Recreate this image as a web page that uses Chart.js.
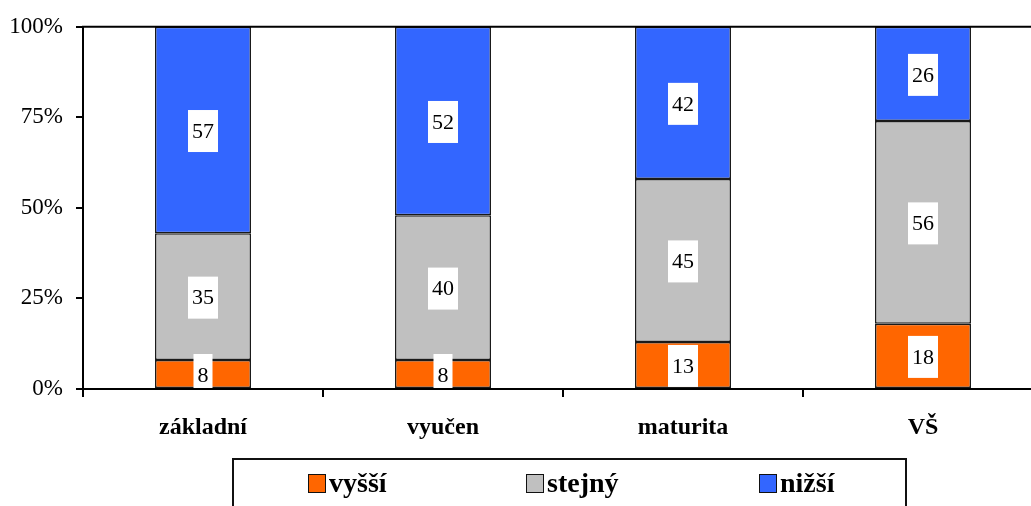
<!DOCTYPE html>
<html><head><meta charset="utf-8">
<script src="https://cdn.jsdelivr.net/npm/chart.js@4.4.1/dist/chart.umd.min.js"></script>
<style>
html,body{margin:0;padding:0;overflow:hidden;background:#fff;width:1031px;height:506px;}
#wrap{position:absolute;left:0;top:0;width:1045px;height:506px;}
#legendBox{position:absolute;left:232px;top:458px;width:675px;height:70px;border:2px solid #111;box-sizing:border-box;}
.li{position:absolute;top:469px;height:28px;display:flex;align-items:center;font:bold 28px "Liberation Serif","Times New Roman",serif;color:#000;white-space:nowrap;}
.sw{width:16px;height:17px;border:1.5px solid #111;margin-right:3px;}
</style></head>
<body>
<div id="wrap"><canvas id="c"></canvas></div>
<div id="legendBox"></div>
<div id="legendItems"></div>
<script>
const categories = ['základní', 'vyučen', 'maturita', 'VŠ'];
const seriesNames = ['vyšší', 'stejný', 'nižší'];
const vyssi = [8, 8, 13, 18];
const stejny = [35, 40, 45, 56];
const nizsi = [57, 52, 42, 26];
const yTickLabels = ['0%', '25%', '50%', '75%', '100%'];

const colors = ['#FF6600', '#C0C0C0', '#3366FF'];
const legendX = [308, 526, 759];
const FONT = '"Liberation Serif", "Times New Roman", serif';

const seriesValues = [vyssi, stejny, nizsi];

const li = document.getElementById('legendItems');
seriesNames.forEach((n, i) => {
  const d = document.createElement('div');
  d.className = 'li';
  d.style.left = legendX[i] + 'px';
  const s = document.createElement('div');
  s.className = 'sw';
  s.style.background = colors[i];
  d.appendChild(s);
  const t = document.createElement('span');
  t.textContent = n;
  d.appendChild(t);
  li.appendChild(d);
});

const labelPlugin = {
  id: 'lbl',
  afterDatasetsDraw(chart) {
    const ctx = chart.ctx, a = chart.chartArea;
    ctx.save();
    ctx.beginPath();
    ctx.rect(a.left, a.top, a.right - a.left, a.bottom - a.top);
    ctx.clip();
    ctx.font = '22px ' + FONT;
    ctx.textAlign = 'center';
    ctx.textBaseline = 'middle';
    chart.data.datasets.forEach((ds, i) => {
      chart.getDatasetMeta(i).data.forEach((el, j) => {
        const t = String(ds.data[j]);
        const cy = (el.y + el.base) / 2 + 1;
        const w = ctx.measureText(t).width + 8;
        ctx.fillStyle = '#fff';
        ctx.fillRect(el.x - w / 2, cy - 21, w, 42);
        ctx.fillStyle = '#000';
        ctx.fillText(t, el.x, cy + 1);
      });
    });
    ctx.restore();
  },
  afterDraw(chart) {
    const ctx = chart.ctx, a = chart.chartArea;
    ctx.save();
    ctx.strokeStyle = '#000';
    ctx.lineWidth = 2;
    ctx.beginPath();
    ctx.moveTo(a.left - 1, a.top);
    ctx.lineTo(a.right + 2, a.top);
    ctx.moveTo(a.left - 1, a.bottom);
    ctx.lineTo(a.right + 2, a.bottom);
    ctx.stroke();
    ctx.restore();
  }
};

new Chart(document.getElementById('c'), {
  type: 'bar',
  data: {
    labels: categories,
    datasets: seriesNames.map((n, i) => ({
      label: n,
      data: seriesValues[i],
      backgroundColor: colors[i],
      borderColor: '#1a1a1a',
      borderWidth: 1.5,
      borderSkipped: false,
      barPercentage: 0.4,
      categoryPercentage: 1.0
    }))
  },
  options: {
    responsive: true,
    maintainAspectRatio: false,
    animation: false,
    layout: { padding: { top: 26, right: 2, left: 0, bottom: 0 } },
    plugins: { legend: { display: false }, tooltip: { enabled: false } },
    scales: {
      x: {
        stacked: true,
        afterFit(s) { s.height = 117; },
        grid: { offset: true, drawOnChartArea: false, drawTicks: true, tickLength: 8, color: '#000', lineWidth: 2 },
        border: { display: true, color: '#000', width: 2 },
        ticks: { color: '#000', padding: 16, font: { family: FONT, size: 24, weight: 'bold' } }
      },
      y: {
        stacked: true,
        min: 0, max: 100,
        afterFit(s) { s.width = 83; },
        afterBuildTicks(s) { s.ticks = yTickLabels.map((_, i) => ({ value: i * 25 })); },
        grid: { drawOnChartArea: false, drawTicks: true, tickLength: 7, color: '#000', lineWidth: 2 },
        border: { display: true, color: '#000', width: 2 },
        ticks: { color: '#000', padding: 13, font: { family: FONT, size: 23 },
          callback: (v) => yTickLabels[Math.round(v / 25)] }
      }
    }
  },
  plugins: [labelPlugin]
});
</script>
</body></html>
